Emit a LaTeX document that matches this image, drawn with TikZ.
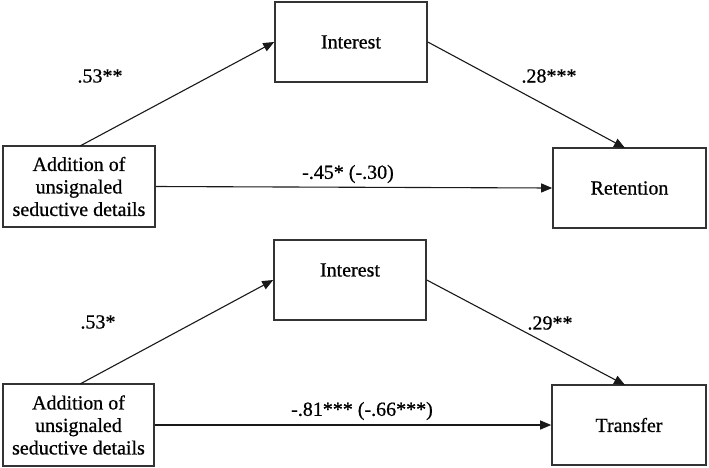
\documentclass[tikz,border=0pt]{standalone}
\usepackage{fontspec}
\setmainfont{Liberation Serif}
\newfontface\heavyfont{Liberation Serif}[FakeBold=0.7]
\usetikzlibrary{arrows.meta}
\begin{document}
\begin{tikzpicture}[x=1pt,y=-1pt,
  box/.style={draw=black!80,line width=1.6pt,fill=white,inner sep=0pt},
  conn/.style={draw=black!90,line width=1.1pt,-{Triangle[length=11pt,width=9pt]}},
  lbl/.style={font=\heavyfont\fontsize{20}{22.5}\selectfont,inner sep=0pt}]
\useasboundingbox (0,0) rectangle (709,467);
\fill[white] (0,0) rectangle (709,467);
% top panel
\node[box,minimum width=152pt,minimum height=81pt] (A1) at (79,186.5) {};
\node[lbl,align=center] (A1t) at (A1.center) {Addition of\\unsignaled\\seductive details};
\node[box,minimum width=152pt,minimum height=80pt] (I1) at (351,42) {};
\node[lbl] (I1t) at (I1.center) {Interest};
\node[box,minimum width=153pt,minimum height=80pt] (R1) at (629.5,188) {};
\node[lbl] (R1t) at (R1.center) {Retention};
\coordinate (a1) at (80,146);
\coordinate (r1) at (625,148);
\draw[conn] (a1) -- (I1.west);
\draw[conn] (I1.east) -- (r1);
\draw[conn] (A1.east) -- (R1.west);
\node[lbl] (l1) at (100,76) {.53**};
\node[lbl] (l2) at (549,76) {.28***};
\node[lbl] (l3) at (348,174) {-.45* (-.30)};
% bottom panel
\node[box,minimum width=151pt,minimum height=82pt] (A2) at (78.5,425) {};
\node[lbl,align=center] (A2t) at (A2.center) {Addition of\\unsignaled\\seductive details};
\node[box,minimum width=152pt,minimum height=80pt] (I2) at (350,280) {};
\node[lbl] (I2t) at (350,270) {Interest};
\node[box,minimum width=154pt,minimum height=80pt] (T2) at (629,425) {};
\node[lbl] (T2t) at (T2.center) {Transfer};
\coordinate (a2) at (80,384);
\coordinate (t2) at (625,385);
\draw[conn] (a2) -- (I2.west);
\draw[conn] (I2.east) -- (t2);
\draw[conn] (A2.east) -- (T2.west);
\node[lbl] (l4) at (98,322) {.53*};
\node[lbl] (l5) at (550,323) {.29**};
\node[lbl] (l6) at (362,411) {-.81*** (-.66***)};
\end{tikzpicture}
\end{document}
